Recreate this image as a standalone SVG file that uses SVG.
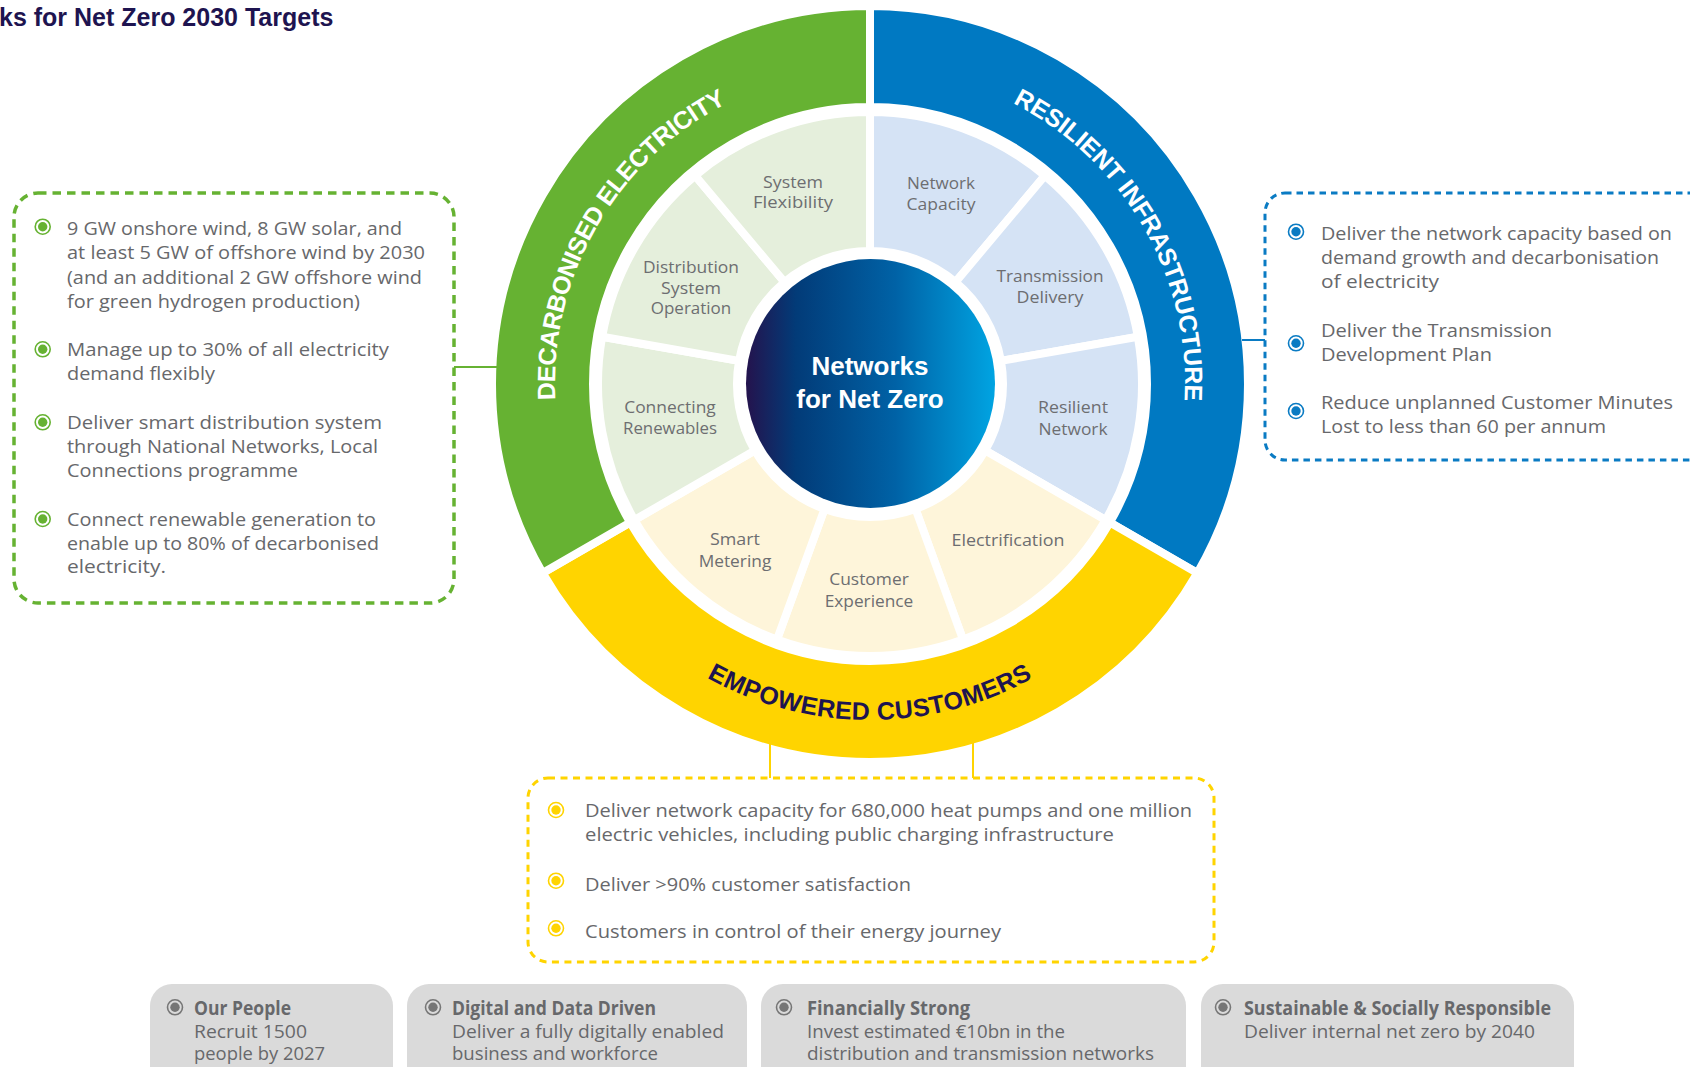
<svg xmlns="http://www.w3.org/2000/svg" xmlns:xlink="http://www.w3.org/1999/xlink" width="1690" height="1067" viewBox="0 0 1690 1067">
<defs>
  <linearGradient id="coreGrad" x1="0" y1="0" x2="1" y2="0">
    <stop offset="0" stop-color="#24134d"/>
    <stop offset="0.2" stop-color="#023b78"/>
    <stop offset="0.6" stop-color="#0062a6"/>
    <stop offset="1" stop-color="#00a4e2"/>
  </linearGradient>
  <path id="arcGreen" d="M 597.2,541.5 A 315 315 0 0 1 870,69"/>
  <path id="arcBlue" d="M 870,69 A 315 315 0 0 1 1142.8,541.5"/>
  <path id="arcYellow" d="M 579.02,552 A 336 336 0 0 0 1160.98,552"/>
  <g id="bul">
    <circle r="7.5" fill="none" stroke="currentColor" stroke-width="1.6"/>
    <circle r="4.7" fill="currentColor"/>
  </g>
</defs>
<style>
  .sector { stroke:#ffffff; stroke-width:8; stroke-linejoin:miter; }
  .ring-txt { font-family:"Liberation Sans", Arial, sans-serif; font-weight:bold; font-size:25px; }
  .seg-txt { font-family:"Open Sans", "Liberation Sans", sans-serif; font-size:17px; fill:#6d6e71; text-anchor:middle; }
  .core-txt { font-family:"Liberation Sans", Arial, sans-serif; font-weight:bold; font-size:26px; fill:#ffffff; text-anchor:middle; }
  .body { font-family:"Open Sans", "Liberation Sans", sans-serif; font-size:19px; fill:#67686b; }
  .pill-txt { font-family:"Open Sans", "Liberation Sans", sans-serif; font-size:19px; fill:#67686b; }
  .bold { font-weight:bold; }
  .title { font-family:"Liberation Sans", Arial, sans-serif; font-weight:bold; font-size:25px; fill:#1e1450; }
  .dash-g { fill:none; stroke:#66b232; stroke-width:3.5; stroke-dasharray:8.5 6; }
  .dash-b { fill:none; stroke:#0a7bc3; stroke-width:3; stroke-dasharray:6.5 5; }
  .dash-y { fill:none; stroke:#ffd400; stroke-width:3; stroke-dasharray:7 5.5; }
  .pill { fill:#dadada; }
</style>

<rect x="0" y="0" width="1690" height="1067" fill="#ffffff"/>

<text id="title" class="title" x="-1" y="26">ks for Net Zero 2030 Targets</text>

<!-- outer ring -->
<g id="ring-resilient">
  <path class="sector" fill="#0079c2" d="M 870,6 A 378 378 0 0 1 1197.36,573 L 1109.89,522.5 A 277 277 0 0 0 870,107 Z"/>
  <text class="ring-txt" fill="#ffffff" letter-spacing="-0.2"><textPath href="#arcBlue" startOffset="50%" text-anchor="middle">RESILIENT INFRASTRUCTURE</textPath></text>
</g>
<g id="ring-empowered">
  <path class="sector" fill="#ffd400" d="M 1197.36,573 A 378 378 0 0 1 542.64,573 L 630.11,522.5 A 277 277 0 0 0 1109.89,522.5 Z"/>
  <text class="ring-txt" fill="#1e1450" letter-spacing="0.4"><textPath href="#arcYellow" startOffset="50%" text-anchor="middle">EMPOWERED CUSTOMERS</textPath></text>
</g>
<g id="ring-decarbonised">
  <path class="sector" fill="#66b232" d="M 542.64,573 A 378 378 0 0 1 870,6 L 870,107 A 277 277 0 0 0 630.11,522.5 Z"/>
  <text class="ring-txt" fill="#ffffff" letter-spacing="-0.5"><textPath href="#arcGreen" startOffset="50%" text-anchor="middle">DECARBONISED ELECTRICITY</textPath></text>
</g>

<!-- connectors -->
<g id="connectors" fill="none" stroke-width="2">
  <line x1="454" y1="367" x2="497" y2="367" stroke="#66b232"/>
  <line x1="1242" y1="340" x2="1265" y2="340" stroke="#0a7bc3"/>
  <line x1="770" y1="743" x2="770" y2="778" stroke="#ffd400"/>
  <line x1="973" y1="742" x2="973" y2="778" stroke="#ffd400"/>
</g>

<!-- segments -->
<g id="seg-network-capacity">
  <path class="sector" fill="#d5e3f5" d="M 870,112 A 272 272 0 0 1 1044.84,175.64 L 955.49,282.12 A 133 133 0 0 0 870,251 Z"/>
  <text class="seg-txt" x="941" y="189" textLength="68" lengthAdjust="spacingAndGlyphs">Network</text>
  <text class="seg-txt" x="941" y="210" textLength="69" lengthAdjust="spacingAndGlyphs">Capacity</text>
</g>
<g id="seg-transmission-delivery">
  <path class="sector" fill="#d5e3f5" d="M 1044.84,175.64 A 272 272 0 0 1 1137.87,336.77 L 1000.98,360.91 A 133 133 0 0 0 955.49,282.12 Z"/>
  <text class="seg-txt" x="1050" y="282" textLength="107" lengthAdjust="spacingAndGlyphs">Transmission</text>
  <text class="seg-txt" x="1050" y="303" textLength="67" lengthAdjust="spacingAndGlyphs">Delivery</text>
</g>
<g id="seg-resilient-network">
  <path class="sector" fill="#d5e3f5" d="M 1137.87,336.77 A 272 272 0 0 1 1105.56,520 L 985.18,450.5 A 133 133 0 0 0 1000.98,360.91 Z"/>
  <text class="seg-txt" x="1073" y="413" textLength="70" lengthAdjust="spacingAndGlyphs">Resilient</text>
  <text class="seg-txt" x="1073" y="435" textLength="69" lengthAdjust="spacingAndGlyphs">Network</text>
</g>
<g id="seg-electrification">
  <path class="sector" fill="#fef5da" d="M 1105.56,520 A 272 272 0 0 1 963.03,639.6 L 915.49,508.98 A 133 133 0 0 0 985.18,450.5 Z"/>
  <text class="seg-txt" x="1008" y="546" textLength="113" lengthAdjust="spacingAndGlyphs">Electrification</text>
</g>
<g id="seg-customer-experience">
  <path class="sector" fill="#fef5da" d="M 963.03,639.6 A 272 272 0 0 1 776.97,639.6 L 824.51,508.98 A 133 133 0 0 0 915.49,508.98 Z"/>
  <text class="seg-txt" x="869" y="585" textLength="79.5" lengthAdjust="spacingAndGlyphs">Customer</text>
  <text class="seg-txt" x="869" y="607" textLength="88.7" lengthAdjust="spacingAndGlyphs">Experience</text>
</g>
<g id="seg-smart-metering">
  <path class="sector" fill="#fef5da" d="M 776.97,639.6 A 272 272 0 0 1 634.44,520 L 754.82,450.5 A 133 133 0 0 0 824.51,508.98 Z"/>
  <text class="seg-txt" x="735" y="545" textLength="50" lengthAdjust="spacingAndGlyphs">Smart</text>
  <text class="seg-txt" x="735" y="567" textLength="72.7" lengthAdjust="spacingAndGlyphs">Metering</text>
</g>
<g id="seg-connecting-renewables">
  <path class="sector" fill="#e5efdc" d="M 634.44,520 A 272 272 0 0 1 602.13,336.77 L 739.02,360.91 A 133 133 0 0 0 754.82,450.5 Z"/>
  <text class="seg-txt" x="670" y="413" textLength="91.6" lengthAdjust="spacingAndGlyphs">Connecting</text>
  <text class="seg-txt" x="670" y="434" textLength="94" lengthAdjust="spacingAndGlyphs">Renewables</text>
</g>
<g id="seg-distribution-system-operation">
  <path class="sector" fill="#e5efdc" d="M 602.13,336.77 A 272 272 0 0 1 695.16,175.64 L 784.51,282.12 A 133 133 0 0 0 739.02,360.91 Z"/>
  <text class="seg-txt" x="691" y="273" textLength="96" lengthAdjust="spacingAndGlyphs">Distribution</text>
  <text class="seg-txt" x="691" y="293.5" textLength="60" lengthAdjust="spacingAndGlyphs">System</text>
  <text class="seg-txt" x="691" y="314" textLength="80.5" lengthAdjust="spacingAndGlyphs">Operation</text>
</g>
<g id="seg-system-flexibility">
  <path class="sector" fill="#e5efdc" d="M 695.16,175.64 A 272 272 0 0 1 870,112 L 870,251 A 133 133 0 0 0 784.51,282.12 Z"/>
  <text class="seg-txt" x="793" y="188" textLength="60" lengthAdjust="spacingAndGlyphs">System</text>
  <text class="seg-txt" x="793" y="208" textLength="80" lengthAdjust="spacingAndGlyphs">Flexibility</text>
</g>

<!-- core -->
<g id="core">
  <circle cx="870.5" cy="383.5" r="124.5" fill="url(#coreGrad)"/>
  <text class="core-txt" x="870" y="375">Networks</text>
  <text class="core-txt" x="870" y="408">for Net Zero</text>
</g>

<!-- green targets box -->
<g id="box-decarbonised">
  <rect class="dash-g" x="14" y="193" width="440" height="410" rx="24"/>
  <use href="#bul" x="42.7" y="226.7" style="color:#66b232"/>
  <use href="#bul" x="42.7" y="349.3" style="color:#66b232"/>
  <use href="#bul" x="42.7" y="422.3" style="color:#66b232"/>
  <use href="#bul" x="42.7" y="519" style="color:#66b232"/>
  <text class="body" x="67" y="235" textLength="335" lengthAdjust="spacingAndGlyphs">9 GW onshore wind, 8 GW solar, and</text>
  <text class="body" x="67" y="259.3" textLength="358" lengthAdjust="spacingAndGlyphs">at least 5 GW of offshore wind by 2030</text>
  <text class="body" x="67" y="283.6" textLength="355" lengthAdjust="spacingAndGlyphs">(and an additional 2 GW offshore wind</text>
  <text class="body" x="67" y="308" textLength="293" lengthAdjust="spacingAndGlyphs">for green hydrogen production)</text>
  <text class="body" x="67" y="356" textLength="322" lengthAdjust="spacingAndGlyphs">Manage up to 30% of all electricity</text>
  <text class="body" x="67" y="380" textLength="148" lengthAdjust="spacingAndGlyphs">demand flexibly</text>
  <text class="body" x="67" y="429" textLength="315" lengthAdjust="spacingAndGlyphs">Deliver smart distribution system</text>
  <text class="body" x="67" y="453.3" textLength="311" lengthAdjust="spacingAndGlyphs">through National Networks, Local</text>
  <text class="body" x="67" y="476.7" textLength="231" lengthAdjust="spacingAndGlyphs">Connections programme</text>
  <text class="body" x="67" y="525.7" textLength="309" lengthAdjust="spacingAndGlyphs">Connect renewable generation to</text>
  <text class="body" x="67" y="550" textLength="312" lengthAdjust="spacingAndGlyphs">enable up to 80% of decarbonised</text>
  <text class="body" x="67" y="573.3" textLength="99" lengthAdjust="spacingAndGlyphs">electricity.</text>
</g>

<!-- blue targets box -->
<g id="box-resilient">
  <rect class="dash-b" x="1265" y="193" width="500" height="267" rx="20"/>
  <use href="#bul" x="1296" y="231.7" style="color:#0a7bc3"/>
  <use href="#bul" x="1296" y="343.3" style="color:#0a7bc3"/>
  <use href="#bul" x="1296" y="411" style="color:#0a7bc3"/>
  <text class="body" x="1321" y="240" textLength="351" lengthAdjust="spacingAndGlyphs">Deliver the network capacity based on</text>
  <text class="body" x="1321" y="264.3" textLength="338" lengthAdjust="spacingAndGlyphs">demand growth and decarbonisation</text>
  <text class="body" x="1321" y="287.7" textLength="118" lengthAdjust="spacingAndGlyphs">of electricity</text>
  <text class="body" x="1321" y="336.7" textLength="231" lengthAdjust="spacingAndGlyphs">Deliver the Transmission</text>
  <text class="body" x="1321" y="360.7" textLength="171" lengthAdjust="spacingAndGlyphs">Development Plan</text>
  <text class="body" x="1321" y="408.5" textLength="352" lengthAdjust="spacingAndGlyphs">Reduce unplanned Customer Minutes</text>
  <text class="body" x="1321" y="433" textLength="285" lengthAdjust="spacingAndGlyphs">Lost to less than 60 per annum</text>
</g>

<!-- yellow targets box -->
<g id="box-empowered">
  <rect class="dash-y" x="528" y="778" width="686" height="184" rx="20"/>
  <use href="#bul" x="556" y="810" style="color:#ffd400"/>
  <use href="#bul" x="556" y="880.7" style="color:#ffd400"/>
  <use href="#bul" x="556" y="928.3" style="color:#ffd400"/>
  <text class="body" x="585" y="817" textLength="607" lengthAdjust="spacingAndGlyphs">Deliver network capacity for 680,000 heat pumps and one million</text>
  <text class="body" x="585" y="841" textLength="529" lengthAdjust="spacingAndGlyphs">electric vehicles, including public charging infrastructure</text>
  <text class="body" x="585" y="890.7" textLength="326" lengthAdjust="spacingAndGlyphs">Deliver &gt;90% customer satisfaction</text>
  <text class="body" x="585" y="938.3" textLength="416" lengthAdjust="spacingAndGlyphs">Customers in control of their energy journey</text>
</g>

<!-- bottom pills -->
<g id="pill-our-people">
  <rect class="pill" x="150" y="984" width="243" height="120" rx="22"/>
  <use href="#bul" x="175" y="1007.3" style="color:#767676"/>
  <text class="pill-txt bold" x="194" y="1015" textLength="97" lengthAdjust="spacingAndGlyphs">Our People</text>
  <text class="pill-txt" x="194" y="1038" textLength="113" lengthAdjust="spacingAndGlyphs">Recruit 1500</text>
  <text class="pill-txt" x="194" y="1060" textLength="131" lengthAdjust="spacingAndGlyphs">people by 2027</text>
</g>
<g id="pill-digital">
  <rect class="pill" x="407" y="984" width="340" height="120" rx="22"/>
  <use href="#bul" x="433" y="1007.3" style="color:#767676"/>
  <text class="pill-txt bold" x="452" y="1015" textLength="204" lengthAdjust="spacingAndGlyphs">Digital and Data Driven</text>
  <text class="pill-txt" x="452" y="1038" textLength="272" lengthAdjust="spacingAndGlyphs">Deliver a fully digitally enabled</text>
  <text class="pill-txt" x="452" y="1060" textLength="206" lengthAdjust="spacingAndGlyphs">business and workforce</text>
</g>
<g id="pill-financial">
  <rect class="pill" x="761" y="984" width="425" height="120" rx="22"/>
  <use href="#bul" x="784" y="1007.3" style="color:#767676"/>
  <text class="pill-txt bold" x="807" y="1015" textLength="163" lengthAdjust="spacingAndGlyphs">Financially Strong</text>
  <text class="pill-txt" x="807" y="1038" textLength="258" lengthAdjust="spacingAndGlyphs">Invest estimated €10bn in the</text>
  <text class="pill-txt" x="807" y="1060" textLength="347" lengthAdjust="spacingAndGlyphs">distribution and transmission networks</text>
</g>
<g id="pill-sustainable">
  <rect class="pill" x="1201" y="984" width="373" height="120" rx="22"/>
  <use href="#bul" x="1223" y="1007.3" style="color:#767676"/>
  <text class="pill-txt bold" x="1244" y="1015" textLength="307" lengthAdjust="spacingAndGlyphs">Sustainable &amp; Socially Responsible</text>
  <text class="pill-txt" x="1244" y="1038" textLength="291" lengthAdjust="spacingAndGlyphs">Deliver internal net zero by 2040</text>
</g>
</svg>
